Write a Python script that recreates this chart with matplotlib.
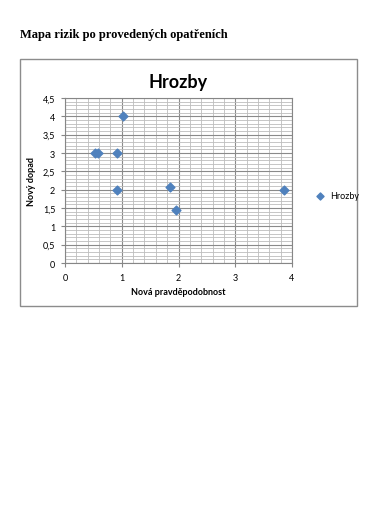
import matplotlib.pyplot as plt
import matplotlib.ticker as mtick
from matplotlib.patches import Rectangle

# data
x_prob = [0.53, 0.58, 0.92, 1.02, 0.92, 1.85, 1.95, 3.86]
y_impact = [3.0, 3.0, 3.0, 4.0, 2.0, 2.07, 1.45, 2.0]
series_name = "Hrozby"
x_ticks = [0, 1, 2, 3, 4]
y_ticks = [0, 0.5, 1, 1.5, 2, 2.5, 3, 3.5, 4, 4.5]

W, H = 382, 510
fig = plt.figure(figsize=(W / 100, H / 100), dpi=100)
fig.patch.set_facecolor("white")
plt.rcParams['font.family'] = ['Lato', 'DejaVu Sans']

# document heading
fig.text(20 / W, 1 - 35 / H, "Mapa rizik po provedených opatřeních",
         family="Liberation Serif", fontweight="bold", fontsize=9, va="center")

# chart frame
fig.patches.append(Rectangle((20 / W, 1 - 307 / H), 337 / W, 247 / H,
                             transform=fig.transFigure, fill=False,
                             edgecolor="#8c8c8c", linewidth=1))

ax = fig.add_axes([65 / W, 1 - 264 / H, 227 / W, 165 / H])
ax.scatter(x_prob, y_impact, marker="D", s=20, color="#4F81BD", zorder=3,
           label=series_name)
ax.set_xlim(0, 4)
ax.set_ylim(0, 4.5)
ax.set_xticks(x_ticks)
ax.set_yticks(y_ticks)
ax.xaxis.set_minor_locator(mtick.MultipleLocator(0.2))
ax.yaxis.set_minor_locator(mtick.MultipleLocator(0.1))
ax.yaxis.set_major_formatter(mtick.FuncFormatter(lambda v, p: f"{v:g}".replace(".", ",")))
ax.grid(which="major", color="#8a8a8a", linewidth=0.8)
ax.grid(which="minor", color="#bdbdbd", linewidth=0.6)
ax.set_axisbelow(True)
for s in ax.spines.values():
    s.set_color("#868686")
    s.set_linewidth(0.8)
ax.tick_params(which="both", length=0, labelsize=6.5, pad=4, colors="black")
ax.tick_params(which="major", length=3, color="#868686")

ax.set_title("Hrozby", fontsize=13, fontweight="bold", pad=8)
ax.set_xlabel("Nová pravděpodobnost", fontsize=6.5, fontweight="bold", labelpad=4)
ax.set_ylabel("Nový dopad", fontsize=6.5, fontweight="bold", labelpad=5)

fig.legend(loc="center left", bbox_to_anchor=(303 / W, 1 - 197 / H), frameon=False,
           fontsize=6.5, handletextpad=0.1, markerscale=0.8)

fig.savefig("out.png", dpi=100)
